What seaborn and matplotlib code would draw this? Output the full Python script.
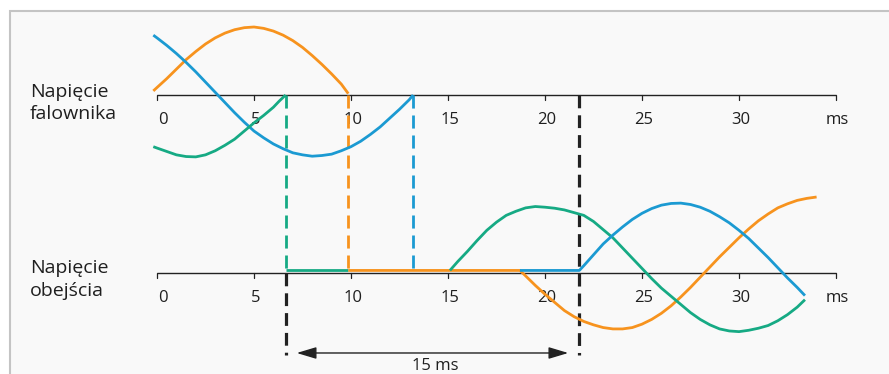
import matplotlib
matplotlib.use("Agg")
import matplotlib.pyplot as plt
import pandas as pd
import seaborn as sns
from matplotlib.patches import Rectangle

sns.set_theme(style="white")
plt.rcParams["font.family"] = ["Open Sans", "DejaVu Sans"]

# time in ms, voltage as fraction of the orange peak
# top: inverter voltage (Napięcie falownika)
inv_orange_t = [-0.19, 0, 0.5, 1, 1.5, 2, 2.5, 3, 3.5, 4, 4.5, 5, 5.5, 6, 6.5,
                7, 7.5, 8, 8.5, 9, 9.5, 9.86]
inv_orange_v = [0.06, 0.11, 0.24, 0.38, 0.52, 0.64, 0.75, 0.84, 0.91, 0.96, 0.99,
                1.0, 0.98, 0.94, 0.88, 0.80, 0.70, 0.58, 0.45, 0.31, 0.16, 0.02]

inv_blue_t = [-0.19, 0, 0.5, 1, 1.5, 2, 2.5, 3, 3.5, 4, 4.5, 5, 5.5, 6, 6.5, 7,
              7.5, 8, 8.5, 9, 9.5, 10, 10.5, 11, 11.5, 12, 12.5, 13, 13.2]
inv_blue_v = [0.88, 0.84, 0.73, 0.61, 0.48, 0.34, 0.19, 0.04, -0.11, -0.26, -0.40,
              -0.53, -0.63, -0.72, -0.79, -0.85, -0.88, -0.90, -0.89, -0.87,
              -0.82, -0.76, -0.68, -0.58, -0.47, -0.34, -0.21, -0.07, 0.0]

inv_green_t = [-0.19, 0, 0.5, 1, 1.5, 2, 2.5, 3, 3.5, 4, 4.5, 5, 5.5, 6, 6.3, 6.63]
inv_green_v = [-0.76, -0.78, -0.83, -0.88, -0.905, -0.91, -0.88, -0.82, -0.74,
               -0.65, -0.53, -0.41, -0.30, -0.18, -0.09, 0.0]

# bottom: bypass voltage (Napięcie obejścia)
byp_green_flat_t = [6.63, 9.86]
byp_green_flat_v = [0.04, 0.04]

byp_green_t = [15.1, 15.5, 16, 16.5, 17, 17.5, 18, 18.5, 19, 19.5, 20, 20.5, 21,
               21.5, 22, 22.5, 23, 23.5, 24, 24.5, 25, 25.5, 26, 26.5, 27, 27.5,
               28, 28.5, 29, 29.5, 30, 30.5, 31, 31.5, 32, 32.5, 33, 33.4]
byp_green_v = [0.04, 0.17, 0.32, 0.48, 0.63, 0.75, 0.85, 0.91, 0.96, 0.98, 0.97,
               0.955, 0.93, 0.89, 0.85, 0.76, 0.64, 0.52, 0.37, 0.22, 0.07, -0.08,
               -0.22, -0.34, -0.46, -0.58, -0.68, -0.76, -0.82, -0.85, -0.86,
               -0.84, -0.81, -0.77, -0.70, -0.61, -0.50, -0.39]

byp_orange_t = [9.86, 18.71, 19, 19.5, 20, 20.5, 21, 21.5, 22, 22.5, 23, 23.5,
                24, 24.5, 25, 25.5, 26, 26.5, 27, 27.5, 28, 28.5, 29, 29.5, 30,
                30.5, 31, 31.5, 32, 32.5, 33, 33.5, 34]
byp_orange_v = [0.04, 0.04, -0.04, -0.18, -0.31, -0.43, -0.55, -0.64, -0.71,
                -0.76, -0.80, -0.82, -0.82, -0.80, -0.75, -0.68, -0.59, -0.48,
                -0.35, -0.21, -0.06, 0.09, 0.24, 0.38, 0.52, 0.65, 0.77, 0.87,
                0.96, 1.02, 1.07, 1.10, 1.12]

byp_blue_t = [18.71, 21.77, 22, 22.5, 23, 23.5, 24, 24.5, 25, 25.5, 26, 26.5, 27,
              27.5, 28, 28.5, 29, 29.5, 30, 30.5, 31, 31.5, 32, 32.5, 33, 33.4]
byp_blue_v = [0.04, 0.04, 0.11, 0.27, 0.43, 0.56, 0.68, 0.79, 0.88, 0.95, 1.00,
              1.025, 1.03, 1.01, 0.97, 0.91, 0.83, 0.74, 0.63, 0.51, 0.37, 0.23,
              0.08, -0.07, -0.21, -0.33]

# switching instants (ms)
switch_green = 6.63
switch_orange = 9.86
switch_blue = 13.2
switch_end = 21.77

ticks = [0, 5, 10, 15, 20, 25, 30, 35]
tick_labels = ["0", "5", "10", "15", "20", "25", "30", "ms"]

ORANGE = "#F7931E"
BLUE = "#1B9AD2"
GREEN = "#16AA84"
INK = "#222222"
TXT = "#1f1f1f"

BASE_TOP = 0.0
BASE_BOT = -2.62

fig = plt.figure(figsize=(8.89, 3.74), dpi=100)
fig.patch.set_facecolor("white")
fig.add_artist(Rectangle((10 / 889, -0.1), 1.2, 1.1 - 11 / 374,
                         transform=fig.transFigure, facecolor="#f9f9f9",
                         edgecolor="#c4c4c4", lw=1.5, zorder=0))

ax = fig.add_axes([0, 0, 1, 1])
ax.set_xlim(-157 / 19.4, (889 - 157) / 19.4)
ax.set_ylim((95 - 374) / 68, 95 / 68)
ax.axis("off")


def curve(t, v, base, color):
    d = pd.DataFrame({"t": t, "v": [base + x for x in v]})
    sns.lineplot(data=d, x="t", y="v", sort=False, estimator=None, color=color,
                 lw=2, ax=ax, solid_capstyle="butt", solid_joinstyle="round",
                 zorder=4)


curve(inv_orange_t, inv_orange_v, BASE_TOP, ORANGE)
curve(inv_blue_t, inv_blue_v, BASE_TOP, BLUE)
curve(inv_green_t, inv_green_v, BASE_TOP, GREEN)

curve(byp_green_flat_t, byp_green_flat_v, BASE_BOT, GREEN)
curve(byp_orange_t, byp_orange_v, BASE_BOT, ORANGE)
curve(byp_green_t, byp_green_v, BASE_BOT, GREEN)
curve(byp_blue_t, byp_blue_v, BASE_BOT, BLUE)

# time axes
for base in (BASE_TOP, BASE_BOT):
    ax.plot([ticks[0], ticks[-1]], [base, base], color=INK, lw=1,
            solid_capstyle="butt", zorder=2)
    for tk, lab in zip(ticks, tick_labels):
        ax.plot([tk, tk], [base, base - 0.075], color=INK, lw=0.9, zorder=2)
        if tk == 0:
            ax.text(tk + 0.05, base - 0.43, lab, ha="left", va="baseline",
                    fontsize=12, color=TXT)
        else:
            ax.text(tk + 0.08, base - 0.43, lab, ha="center", va="baseline",
                    fontsize=12, color=TXT)

# switching transfers: dashed drops from inverter to bypass
flat = BASE_BOT + byp_green_flat_v[0]
for ts, col in ((switch_green, GREEN), (switch_orange, ORANGE), (switch_blue, BLUE)):
    ax.plot([ts, ts], [BASE_TOP, flat], color=col, lw=2, dashes=(4.7, 2.5),
            zorder=3)

ax.plot([switch_end, switch_end], [BASE_TOP, -3.82], color=INK, lw=2.3,
        dashes=(4.0, 2.2), zorder=3)
ax.plot([switch_green, switch_green], [BASE_BOT, -3.82], color=INK, lw=2.3,
        dashes=(4.0, 2.2), zorder=3)

ax.annotate("", xy=(switch_green, -3.794), xytext=(switch_end, -3.794),
            arrowprops=dict(arrowstyle="<|-|>,head_length=12,head_width=3.6",
                            mutation_scale=1, color=INK, lw=1,
                            shrinkA=8, shrinkB=8))
ax.text(14.33, -4.05, "15 ms", ha="center", va="baseline", fontsize=12,
        color=TXT)

ax.text(-6.55, BASE_TOP - 0.35, "Napięcie\nfalownika", ha="left", va="baseline",
        fontsize=14, color=TXT, linespacing=1.3)
ax.text(-6.55, BASE_BOT - 0.33, "Napięcie\nobejścia", ha="left", va="baseline",
        fontsize=14, color=TXT, linespacing=1.3)

fig.savefig("out.png", dpi=100)
